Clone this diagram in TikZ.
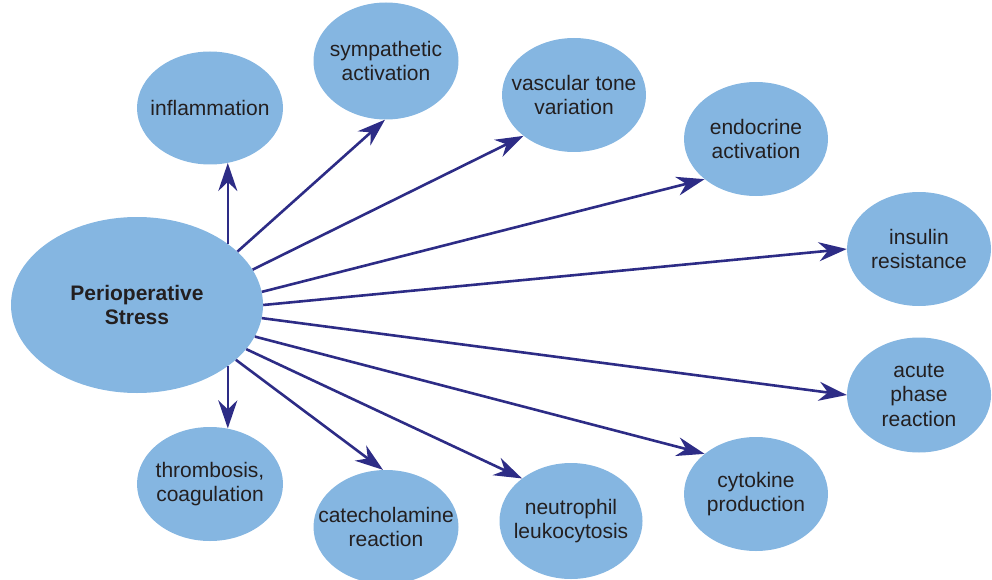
\documentclass[tikz,border=0pt]{standalone}
\usepackage{fontspec}
\setmainfont{Liberation Sans}
\usetikzlibrary{arrows.meta,shapes.geometric}
\definecolor{bubfill}{HTML}{85B6E1}
\definecolor{arrcol}{HTML}{2D2C86}
\definecolor{txtcol}{HTML}{231F20}
\begin{document}
\begin{tikzpicture}[x=1pt,y=-1pt,
  bub/.style={ellipse, fill=bubfill, draw=none, inner xsep=-60pt, inner ysep=-60pt, align=center,
    text=txtcol, font=\fontsize{21}{24.5}\selectfont},
  arr/.style={draw=arrcol, line width=2.6pt,
    -{Stealth[length=28pt, width=19pt, inset=9pt]}}]
\useasboundingbox (0,0) rectangle (992,580);
\node[bub, minimum width=252pt, minimum height=176pt, font=\fontsize{21}{24.5}\selectfont\bfseries] (c) at (137,305) {Perioperative\\Stress};
\node[bub, minimum width=146pt, minimum height=113pt] (infl) at (210,108) {inflammation};
\node[bub, minimum width=145pt, minimum height=117pt] (symp) at (386,61) {sympathetic\\activation};
\node[bub, minimum width=144pt, minimum height=114pt] (vasc) at (574,95) {vascular tone\\variation};
\node[bub, minimum width=144pt, minimum height=114pt] (endo) at (756,139) {endocrine\\activation};
\node[bub, minimum width=144pt, minimum height=114pt] (ins) at (919,249) {insulin\\resistance};
\node[bub, minimum width=144pt, minimum height=115pt] (acute) at (919,395) {acute\\phase\\reaction};
\node[bub, minimum width=144pt, minimum height=114pt] (cyto) at (756,494) {cytokine\\production};
\node[bub, minimum width=143pt, minimum height=116pt] (neut) at (571,521) {neutrophil\\leukocytosis};
\node[bub, minimum width=145pt, minimum height=114pt] (cate) at (386,527) {catecholamine\\reaction};
\node[bub, minimum width=146pt, minimum height=114pt] (thr) at (210,484) {thrombosis,\\coagulation};
\draw[arr] (c.34.3) -- (c.34.3 |- infl.-72.5);
\draw[arr] (c.28.8) -- (symp.-91);
\draw[arr] (c.17.7) -- (vasc.-141);
\draw[arr] (c.6.8) -- (endo.-142.3);
\draw[arr] (c.0.5) -- (ins.180);
\draw[arr] (c.-6.8) -- (acute.180);
\draw[arr] (c.-15.2) -- (cyto.142.3);
\draw[arr] (c.-22.2) -- (neut.139.9);
\draw[arr] (c.-29.7) -- (cate.93);
\draw[arr] (c.-34.7) -- (c.-34.7 |- thr.73);
\end{tikzpicture}
\end{document}
